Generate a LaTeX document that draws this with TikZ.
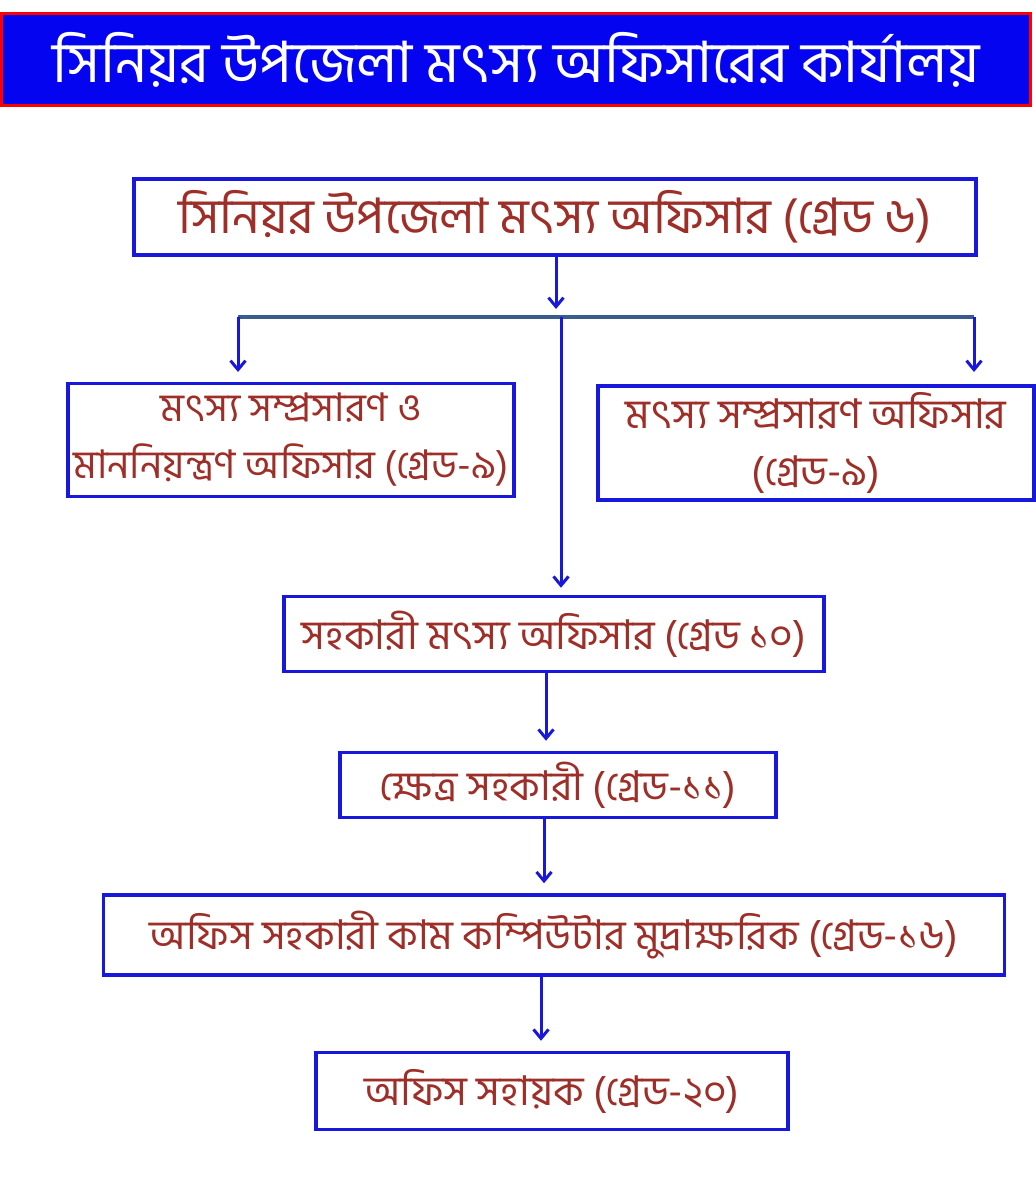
\documentclass[tikz,border=0pt]{standalone}
\usepackage{fontspec}
\newfontfamily\bn[Script=Bengali]{Hind Siliguri}
\usetikzlibrary{arrows.meta}
\definecolor{titleblue}{RGB}{4,4,240}
\definecolor{boxblue}{RGB}{24,24,220}
\definecolor{txtred}{RGB}{158,46,40}
\definecolor{barblue}{RGB}{58,92,140}

\begin{document}
\begin{tikzpicture}[x=1pt,y=-1pt,
    box/.style={draw=boxblue, line width=3.5pt, text=txtred, inner sep=0pt,
      align=center, font=\bn\fontsize{41}{57}\selectfont},
    arr/.style={draw=boxblue, line width=3pt, -{Straight Barb[length=9pt,width=15pt]}}]
  \useasboundingbox (0,0) rectangle (1035,1182);
  % title bar
  \node[fill=titleblue, draw=red, line width=3pt, minimum width=1029, minimum height=92,
    text=white, font=\bn\fontsize{57}{60}\selectfont] (T) at (516,60) {সিনিয়র উপজেলা মৎস্য অফিসারের কার্যালয়};
  % boxes
  \node[box, minimum width=842, minimum height=76, font=\bn\fontsize{49}{52}\selectfont] (B1) at (555,217) {সিনিয়র উপজেলা মৎস্য অফিসার (গ্রেড ৬)};
  \node[box, minimum width=446, minimum height=113, font=\bn\fontsize{39.5}{57}\selectfont] (L) at (291,440) {মৎস্য সম্প্রসারণ ও\\মাননিয়ন্ত্রণ অফিসার (গ্রেড-৯)};
  \node[box, minimum width=436, minimum height=114] (R) at (816,443) {মৎস্য সম্প্রসারণ অফিসার\\(গ্রেড-৯)};
  \node[box, minimum width=540, minimum height=75] (B3) at (554,634) {সহকারী মৎস্য অফিসার (গ্রেড ১০)};
  \node[box, minimum width=436, minimum height=65] (B4) at (558,785) {ক্ষেত্র সহকারী (গ্রেড-১১)};
  \node[box, minimum width=901, minimum height=80] (B5) at (554,935) {অফিস সহকারী কাম কম্পিউটার মুদ্রাক্ষরিক (গ্রেড-১৬)};
  \node[box, minimum width=472, minimum height=77] (B6) at (552,1091) {অফিস সহায়ক (গ্রেড-২০)};
  % branch
  \coordinate (m1) at (556,309);
  \coordinate (bl) at (238,317);
  \coordinate (bm) at (561,317);
  \coordinate (br) at (974,317);
  \draw[arr] (B1.south -| m1) -- (m1);
  \draw[barblue, line width=4pt] (bl) -- (br);
  \draw[arr] (bl) -- ++(0,55);
  \draw[arr] (br) -- ++(0,55);
  \draw[arr, shorten >=7pt] (bm) -- (bm |- B3.north);
  % chain
  \coordinate (x1) at (546,0);
  \coordinate (x2) at (544,0);
  \coordinate (x3) at (541,0);
  \foreach \s/\t/\x in {B3/B4/x1, B4/B5/x2, B5/B6/x3}{
    \draw[arr, shorten >=10pt] (\s.south -| \x) -- (\t.north -| \x);
  }
\end{tikzpicture}
\end{document}
